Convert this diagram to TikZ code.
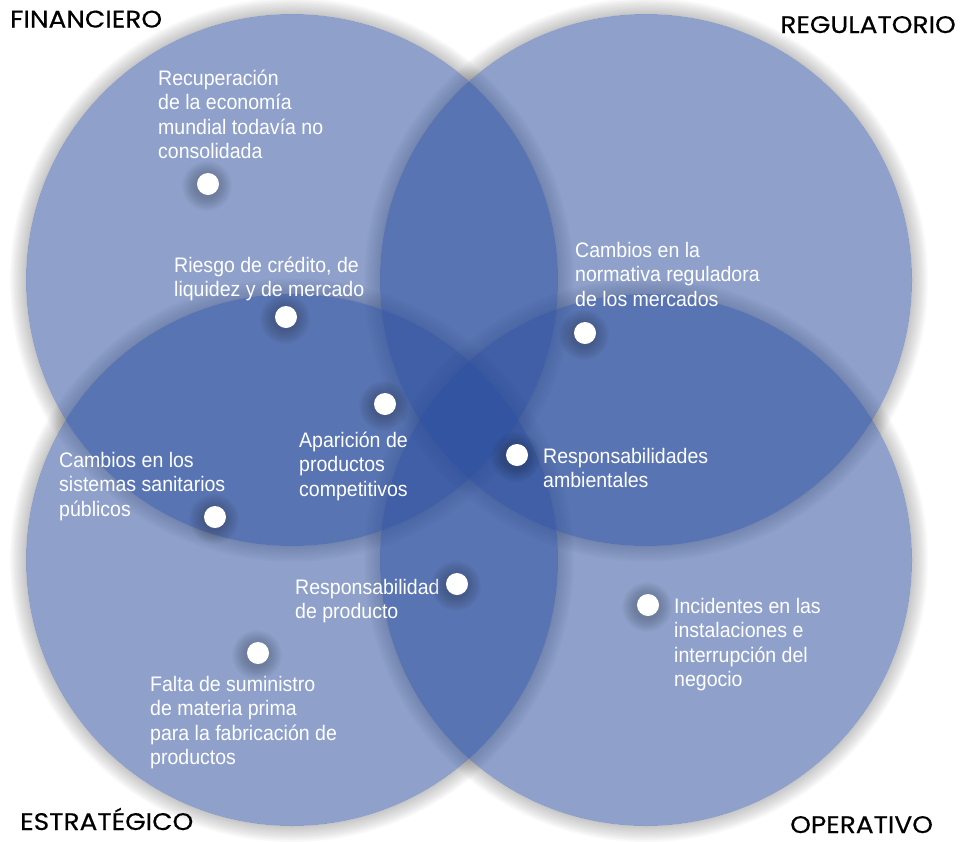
\documentclass[tikz,border=0pt]{standalone}
\usepackage{fontspec}
\setmainfont{Liberation Sans}[FakeStretch=0.93]
\newfontfamily\catfont{Poppins}[FakeStretch=1.1, FakeBold=0.4]
\usetikzlibrary{positioning}
\definecolor{riskblue}{RGB}{40,75,155}
\tikzset{
    area/.style={fill=riskblue, fill opacity=0.52},
    area shadow/.style={fill=black, fill opacity=0.022, even odd rule},
    risk dot/.style={circle, fill=white, inner sep=0pt, minimum size=22pt},
    risk text/.style={text=white, align=left, anchor=north west, inner sep=0pt,
        font=\fontsize{21}{24.3}\selectfont},
    category/.style={text=black, inner sep=0pt, font=\catfont\fontsize{24}{28}\selectfont}
}
\begin{document}
\begin{tikzpicture}[x=1pt, y=-1pt]
	\useasboundingbox (0,0) rectangle (961,841);
	% soft shadows of the four areas
	\foreach \cx/\cy in {292/280, 646/280, 292/560, 646/560}
		\foreach \k in {1,...,10}
			\fill[area shadow] (\cx,\cy) circle ({(266+1.6*\k)*1pt}) (\cx,\cy) circle (266pt);
	% the four areas
	\fill[area] (292,280) circle (266pt);
	\fill[area] (646,280) circle (266pt);
	\fill[area] (292,560) circle (266pt);
	\fill[area] (646,560) circle (266pt);
	% categories
	\node[category, anchor=base west] (fin) at (10,27.5) {FINANCIERO};
	\node[category, anchor=base east] (reg) at (956,33) {REGULATORIO};
	\node[category, anchor=base west] (est) at (20,830) {ESTRATÉGICO};
	\node[category, anchor=base west] (ope) at (790,833) {OPERATIVO};
	% risks
	\node[risk text] (t recup) at (158,70) {Recuperación\\de la economía\\mundial todavía no\\consolidada};
	\node[risk text] (t riesgo) at (174,257) {Riesgo de crédito, de\\liquidez y de mercado};
	\node[risk text] (t norma) at (575,242) {Cambios en la\\normativa reguladora\\de los mercados};
	\node[risk text] (t apar) at (299,432) {Aparición de\\productos\\competitivos};
	\node[risk text] (t amb) at (543,448) {Responsabilidades\\ambientales};
	\node[risk text] (t sanit) at (59,452) {Cambios en los\\sistemas sanitarios\\públicos};
	\node[risk text] (t prod) at (295,579) {Responsabilidad\\de producto};
	\node[risk text] (t incid) at (674,598) {Incidentes en las\\instalaciones e\\interrupción del\\negocio};
	\node[risk text] (t falta) at (150,676) {Falta de suministro\\de materia prima\\para la fabricación de\\productos};
	% dots
	\foreach \n/\x/\y in {recup/208/184, riesgo/286/317, apar/385/404, norma/585/333,
		amb/517/455, sanit/215/517, prod/457/584, incid/648/605, falta/258/653} {
		\foreach \k in {1,...,10}
			\fill[black, opacity=0.025] (\x-1,\y+2) circle ({(11+1.4*\k)*1pt});
		\node[risk dot] (d \n) at (\x,\y) {};
	}
\end{tikzpicture}
\end{document}
